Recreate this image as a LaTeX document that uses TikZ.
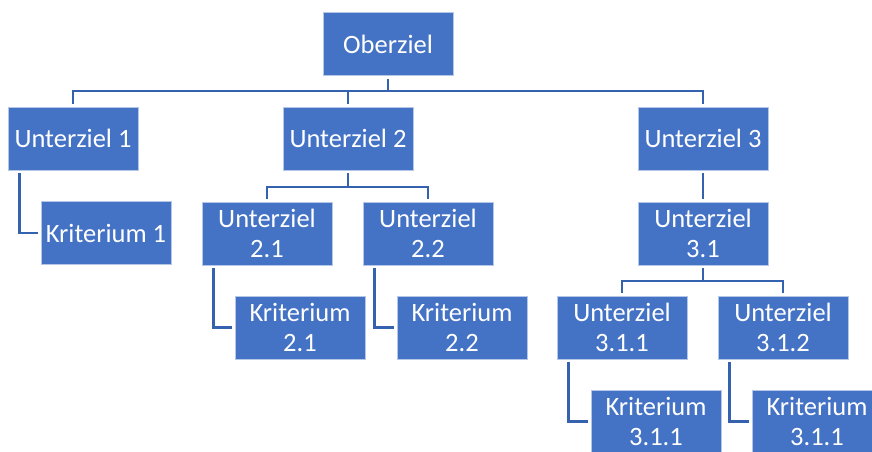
\documentclass[tikz,border=0pt]{standalone}
\usepackage{fontspec}
\setmainfont{Carlito}
\usetikzlibrary{calc}
\definecolor{boxblue}{HTML}{4472C4}
\definecolor{lineblue}{HTML}{3562AE}
\definecolor{boxedge}{HTML}{B4C7E7}
\tikzset{
  zbox/.style={rectangle, fill=boxblue, draw=boxedge, line width=0.7pt,
    minimum width=130pt, minimum height=63pt, inner sep=0pt,
    text=white, align=center, font=\fontsize{26.5}{29.5}\selectfont},
  conn/.style={draw=lineblue, line width=2.6pt, shorten <=3pt, shorten >=3pt},
}
\begin{document}
\begin{tikzpicture}[x=1pt,y=-1pt]
\useasboundingbox (0,0) rectangle (872,451);
\clip (0,0) rectangle (872,451);
\coordinate (bus0) at (0,91);
\coordinate (bus2) at (0,187);
\coordinate (bus3) at (0,281);
\node[zbox] (ober) at (388,44) {Oberziel};
\node[zbox] (u1) at (73,138.5) {Unterziel 1};
\node[zbox] (u2) at (348,138.5) {Unterziel 2};
\node[zbox] (u3) at (703,138.5) {Unterziel 3};
\node[zbox] (k1) at (106,233) {Kriterium 1};
\node[zbox] (u21) at (267,233.5) {Unterziel\\2.1};
\node[zbox] (u22) at (428,233.5) {Unterziel\\2.2};
\node[zbox] (u31) at (703,233.5) {Unterziel\\3.1};
\node[zbox] (k21) at (300,327.5) {Kriterium\\2.1};
\node[zbox] (k22) at (462,327.5) {Kriterium\\2.2};
\node[zbox] (u311) at (622,327.5) {Unterziel\\3.1.1};
\node[zbox] (u312) at (783,327.5) {Unterziel\\3.1.2};
\node[zbox] (k311) at (656,421.5) {Kriterium\\3.1.1};
\node[zbox] (k312) at (817,421.5) {Kriterium\\3.1.1};
% tree connectors
\draw[conn] (u1.north) -- (u1.north |- bus0) -- (u3.north |- bus0) -- (u3.north);
\draw[conn, shorten >=0pt] (ober.south) -- (ober.south |- bus0);
\draw[conn, shorten >=0pt] (u2.north) -- (u2.north |- bus0);
\draw[conn] (u3.south) -- (u31.north);
\draw[conn] (u21.north) -- (u21.north |- bus2) -- (u22.north |- bus2) -- (u22.north);
\draw[conn, shorten >=0pt] (u2.south) -- (u2.south |- bus2);
\draw[conn] (u311.north) -- (u311.north |- bus3) -- (u312.north |- bus3) -- (u312.north);
\draw[conn, shorten >=0pt] (u31.south) -- (u31.south |- bus3);
% side connectors
\draw[conn] ([xshift=12pt]u1.south west) |- (k1.west);
\draw[conn] ([xshift=12pt]u21.south west) |- (k21.west);
\draw[conn] ([xshift=12pt]u22.south west) |- (k22.west);
\draw[conn] ([xshift=12pt]u311.south west) |- (k311.west);
\draw[conn] ([xshift=12pt]u312.south west) |- (k312.west);
\end{tikzpicture}
\end{document}
